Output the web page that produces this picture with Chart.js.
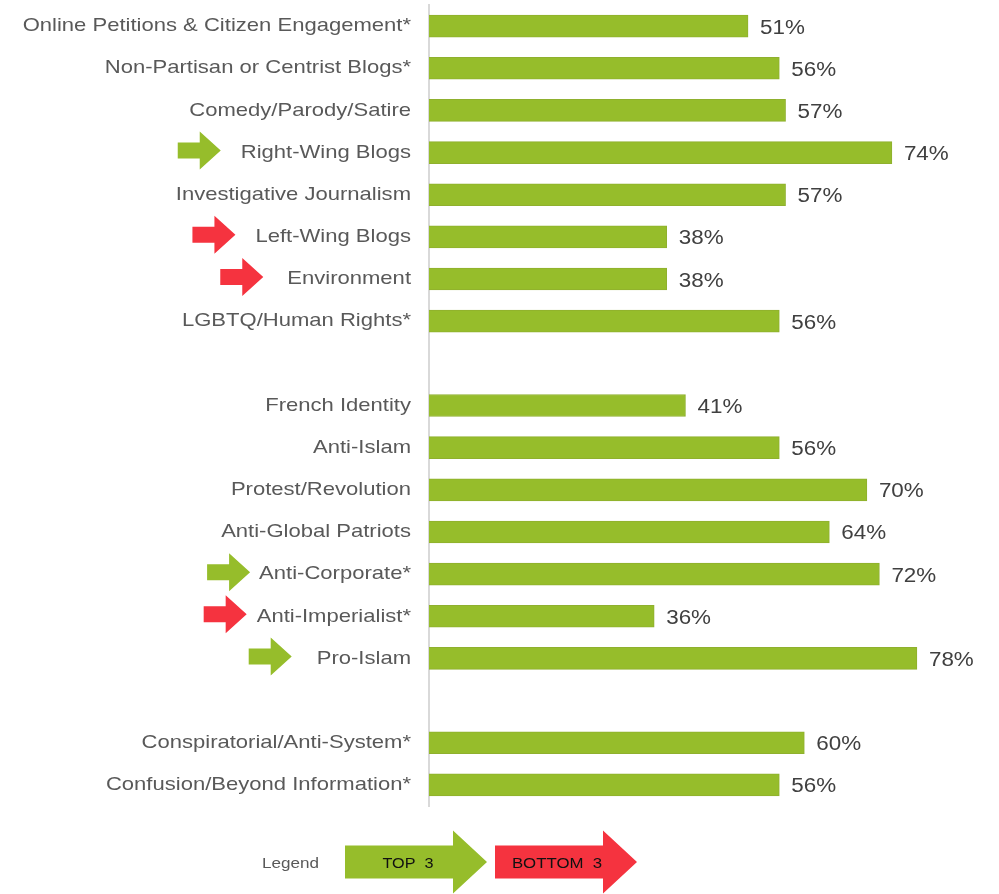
<!DOCTYPE html>
<html>
<head>
<meta charset="utf-8">
<script src="https://cdn.jsdelivr.net/npm/chart.js@4/dist/chart.umd.min.js"></script>
<style>
    html, body { margin: 0; padding: 0; background: #fff; }
    #wrap { width: 999px; height: 894px; position: relative; }
</style>
</head>
<body>
<div id="wrap"><canvas id="barChart"></canvas></div>
<script>
    // categories (blank entries are the gaps between groups)
    var categories = [
        'Online Petitions & Citizen Engagement*',
        'Non-Partisan or Centrist Blogs*',
        'Comedy/Parody/Satire',
        'Right-Wing Blogs',
        'Investigative Journalism',
        'Left-Wing Blogs',
        'Environment',
        'LGBTQ/Human Rights*',
        '',
        'French Identity',
        'Anti-Islam',
        'Protest/Revolution',
        'Anti-Global Patriots',
        'Anti-Corporate*',
        'Anti-Imperialist*',
        'Pro-Islam',
        '',
        'Conspiratorial/Anti-System*',
        'Confusion/Beyond Information*'
    ];
    var values = [51, 56, 57, 74, 57, 38, 38, 56, null, 41, 56, 70, 64, 72, 36, 78, null, 60, 56];

    // top 3 / bottom 3 arrows next to the labels
    var topThree = ['Right-Wing Blogs', 'Anti-Corporate*', 'Pro-Islam'];
    var bottomThree = ['Left-Wing Blogs', 'Environment', 'Anti-Imperialist*'];
    var legendLabels = ['TOP  3', 'BOTTOM  3'];

    var GREEN = '#96BD2B';
    var RED = '#F5333F';
    var FONT = '"Liberation Sans", Arial, sans-serif';
    var STRETCH = 1.16;   // the original text is a bit wider than plain Arial

    // gap between arrow tip and label text, per label
    var arrowGap = {
        'Right-Wing Blogs': 20, 'Left-Wing Blogs': 20, 'Environment': 24,
        'Anti-Corporate*': 9, 'Anti-Imperialist*': 10, 'Pro-Islam': 25
    };

    function drawArrow(ctx, x, cy, w, h, bodyH, headW, color) {
        ctx.save();
        ctx.fillStyle = color;
        ctx.beginPath();
        ctx.moveTo(x, cy - bodyH / 2);
        ctx.lineTo(x + w - headW, cy - bodyH / 2);
        ctx.lineTo(x + w - headW, cy - h / 2);
        ctx.lineTo(x + w, cy);
        ctx.lineTo(x + w - headW, cy + h / 2);
        ctx.lineTo(x + w - headW, cy + bodyH / 2);
        ctx.lineTo(x, cy + bodyH / 2);
        ctx.closePath();
        ctx.fill();
        ctx.restore();
    }

    function stretchedText(ctx, text, x, y, align, sx) {
        ctx.save();
        ctx.translate(x, y);
        ctx.scale(sx, 1);
        ctx.textAlign = align;
        ctx.fillText(text, 0, 0);
        ctx.restore();
    }

    var extrasPlugin = {
        id: 'extras',
        afterDatasetsDraw: function (chart) {
            var ctx = chart.ctx;
            var meta = chart.getDatasetMeta(0);
            var yScale = chart.scales.y;
            var labelRight = yScale.right - 18;

            // category labels
            ctx.save();
            ctx.font = '19px ' + FONT;
            ctx.fillStyle = '#595959';
            ctx.textBaseline = 'middle';
            categories.forEach(function (cat, i) {
                if (!cat) return;
                stretchedText(ctx, cat, labelRight, yScale.getPixelForValue(i), 'right', STRETCH);
            });
            ctx.restore();

            // value labels
            ctx.save();
            ctx.font = '20px ' + FONT;
            ctx.fillStyle = '#404040';
            ctx.textBaseline = 'middle';
            meta.data.forEach(function (bar, i) {
                if (values[i] === null) return;
                stretchedText(ctx, values[i] + '%', bar.x + 12, bar.y + 2, 'left', 1.12);
            });
            ctx.restore();

            // arrows in front of labels
            ctx.save();
            ctx.font = '19px ' + FONT;
            categories.forEach(function (cat, i) {
                var color = null;
                if (topThree.indexOf(cat) >= 0) color = GREEN;
                if (bottomThree.indexOf(cat) >= 0) color = RED;
                if (!color) return;
                var textLeft = labelRight - ctx.measureText(cat).width * STRETCH;
                var tip = textLeft - arrowGap[cat];
                drawArrow(ctx, tip - 43, yScale.getPixelForValue(i) - 2, 43, 38, 16, 21, color);
            });
            ctx.restore();

            // legend at the bottom
            ctx.save();
            ctx.font = '14px ' + FONT;
            ctx.fillStyle = '#595959';
            ctx.textBaseline = 'middle';
            stretchedText(ctx, 'Legend', 262, 864, 'left', 1.22);
            drawArrow(ctx, 345, 862, 142, 63, 33, 34, GREEN);
            drawArrow(ctx, 495, 862, 142, 63, 33, 34, RED);
            ctx.fillStyle = '#111';
            ctx.font = '15px ' + FONT;
            stretchedText(ctx, legendLabels[0], 408, 864, 'center', 1.08);
            stretchedText(ctx, legendLabels[1], 557, 864, 'center', 1.12);
            ctx.restore();
        }
    };

    var ctx = document.getElementById('barChart').getContext('2d');

    new Chart(ctx, {
        type: 'bar',
        data: {
            labels: categories,
            datasets: [{
                data: values,
                backgroundColor: GREEN,
                borderColor: '#8FB02E',
                borderWidth: 1,
                barThickness: 22
            }]
        },
        options: {
            indexAxis: 'y',
            responsive: true,
            maintainAspectRatio: false,
            animation: false,
            layout: { padding: { top: 5, bottom: 88, right: 7, left: 0 } },
            plugins: {
                legend: { display: false },
                tooltip: { enabled: false }
            },
            scales: {
                x: {
                    display: false,
                    min: 0,
                    max: 90
                },
                y: {
                    afterFit: function (scale) {
                        scale.width = 429;
                        scale.paddingTop = 0;
                        scale.paddingBottom = 0;
                    },
                    grid: { display: false, drawTicks: false },
                    border: { display: true, color: '#D9D9D9', width: 2 },
                    ticks: { display: false, autoSkip: false }
                }
            }
        },
        plugins: [extrasPlugin]
    });
</script>
</body>
</html>
